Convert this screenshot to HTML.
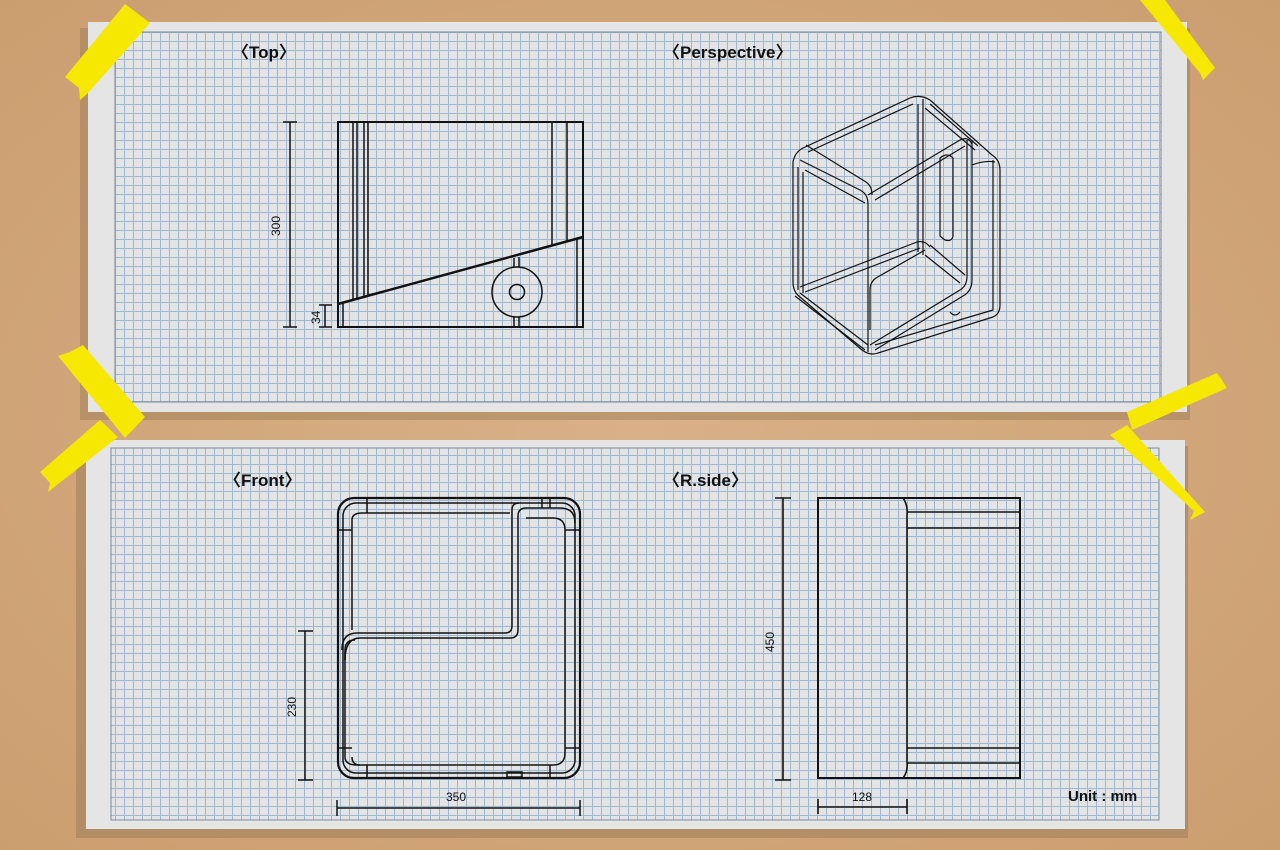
<!DOCTYPE html>
<html><head><meta charset="utf-8"><style>
html,body{margin:0;padding:0;width:1280px;height:850px;overflow:hidden;background:#d4a87a}
svg{display:block}
text{font-family:"Liberation Sans","Noto Sans CJK JP",sans-serif;fill:#111}
</style></head><body>
<svg width="1280" height="850" viewBox="0 0 1280 850" xmlns="http://www.w3.org/2000/svg">
<defs>
<pattern id="g" x="115" y="32" width="9" height="9" patternUnits="userSpaceOnUse">
<rect width="9" height="9" fill="#e3e4e6"/>
<path d="M0,0.5H9M0.5,0V9" stroke="#9fb6cd" stroke-width="1"/>
</pattern>
<radialGradient id="bg" cx="0.5" cy="0.5" r="0.8">
<stop offset="0" stop-color="#d9b088"/><stop offset="1" stop-color="#c99c6c"/>
</radialGradient>
</defs>
<rect width="1280" height="850" fill="url(#bg)"/>
<rect x="80" y="28" width="1110" height="392" fill="#9a7a55" opacity="0.45"/>
<rect x="76" y="446" width="1112" height="392" fill="#9a7a55" opacity="0.5"/>
<rect x="88" y="22" width="1099" height="390" fill="#e5e5e5"/>
<rect x="115" y="32" width="1046" height="370" fill="url(#g)" stroke="#7a8a9a" stroke-width="1"/>
<rect x="86" y="440" width="1099" height="389" fill="#e5e5e5"/>
<rect x="111" y="448" width="1048" height="372" fill="url(#g)" stroke="#7a8a9a" stroke-width="1"/>

<text x="232" y="58" font-size="17" font-weight="bold">〈Top〉</text>
<text x="663" y="58" font-size="17" font-weight="bold">〈Perspective〉</text>
<text x="224" y="486" font-size="17" font-weight="bold">〈Front〉</text>
<text x="663" y="486" font-size="17" font-weight="bold">〈R.side〉</text>
<text x="1068" y="801" font-size="15" font-weight="bold">Unit : mm</text>

<g fill="none" stroke="#111">
<rect x="338" y="122" width="245" height="205" stroke-width="2"/>
<path d="M338,304 L583,237" stroke-width="2.5"/>
<g stroke-width="1.5">
<path d="M353,122V300M357,122V299M364,122V297M368,122V296"/>
<path d="M552,122V245M567,122V241"/>
<path d="M343,303V327M577,239V327"/>
<path d="M514,258V267M519,257V267M514,317V327M519,317V327"/>
<circle cx="517" cy="292" r="25"/>
<circle cx="517" cy="292" r="7.5"/>
<path d="M290,122V327M283,122H297M283,327H297"/>
<path d="M325,305V327M319,305H332M319,327H332"/>
</g>

<g stroke-width="1.2" stroke-linejoin="round">
<path d="M803,148 Q795,152 793,162 L793,282 Q793,292 800,297 L862,350 Q870,356 878,353 L993,317 Q1000,314 1000,305 L1000,170 Q1000,160 992,155 L930,100 Q920,94 910,98 Z"/>
<path d="M808,152 L913,104 M800,160 L860,190 Q868,194 868,204 L868,352"/>
<path d="M868,195 L960,140 Q968,136 972,144 M875,200 L965,146"/>
<path d="M798,167 L798,290 M803,172 L803,293"/>
<path d="M805,170 L865,203 M806,145 L866,182 Q872,186 872,195"/>
<path d="M923,99 L923,255 M918,104 L918,252"/>
<path d="M800,287 L917,242 Q925,240 930,247 M805,292 L920,248"/>
<path d="M870,345 L960,290 Q967,286 967,276 L967,140 M875,350 L963,296 Q972,291 972,280 L972,140"/>
<path d="M925,108 L975,150 M930,104 L978,146"/>
<path d="M930,245 L965,275 M925,255 L960,283"/>
<path d="M940,158 Q947,152 953,158 L953,236 Q952,242 945,240 L940,236 Z"/>
<path d="M972,165 Q985,160 995,162 M993,160 L993,310 L875,345"/>
<path d="M876,278 Q870,282 870,290 L870,330 M876,278 L925,250"/>
<path d="M795,296 L865,350 M800,293 L868,345"/>
<path d="M950,312 Q955,318 960,312"/>
</g>

<rect x="338" y="498" width="242" height="280" rx="16" stroke-width="2.2"/>
<g stroke-width="1.5">
<rect x="343" y="503" width="232" height="270" rx="13"/>
<path d="M345,660 L345,650 Q345,640 355,640 M352,520 Q352,513 362,513 L510,513"/>
<path d="M352,520 L352,630 M345,652 L345,757 Q345,765 357,765 L553,765 Q565,765 565,753 L565,530 Q565,518 553,518 L526,518"/>
<path d="M352,757 Q352,765 360,765"/>
<path d="M342,650 Q342,633 357,633 L505,633 Q512,633 512,626 L512,510 Q512,503 519,503"/>
<path d="M345,660 Q345,638 360,638 L510,638 Q518,638 518,630 L518,516 Q518,508 526,508 L560,508 Q575,508 575,523"/>
<path d="M367,498V513M367,765V778M542,498V508M550,498V508M550,765V778"/>
<path d="M338,530H352M338,748H352M565,530H580M565,748H580"/>
<path d="M507,772H522V777H507Z"/>
<path d="M305,631V780M298,631H313M298,780H313"/>
<path d="M337,808H580M337,800V816M580,800V816"/>
</g>

<rect x="818" y="498" width="202" height="280" stroke-width="2"/>
<g stroke-width="1.6">
<path d="M903,498 Q908,505 907,515 L907,762 Q908,772 903,778"/>
<path d="M907,512H1020M907,528H1020M907,748H1020M907,763H1020"/>
<path d="M783,498V780M775,498H791M775,780H791"/>
<path d="M818,807H907M818,799V814M907,799V814"/>
</g>
</g>
<g font-size="12">
<text x="0" y="0" transform="translate(280,236) rotate(-90)">300</text>
<text x="0" y="0" transform="translate(320,324) rotate(-90)">34</text>
<text x="0" y="0" transform="translate(296,717) rotate(-90)">230</text>
<text x="446" y="801">350</text>
<text x="0" y="0" transform="translate(774,652) rotate(-90)">450</text>
<text x="852" y="801">128</text>
</g>

<g fill="#f6e800">
<polygon points="65,77 125,4 150,23 88,93 80,100 79,88"/>
<polygon points="1140,0 1165,0 1215,68 1203,80 1200,73"/>
<polygon points="58,356 70,352 83,345 145,417 125,438"/>
<polygon points="40,472 100,420 118,437 48,492 50,483"/>
<polygon points="1127,412 1217,373 1222,380 1227,388 1132,430"/>
<polygon points="1110,435 1127,425 1205,512 1190,520 1194,511"/>
</g>
</svg>
</body></html>
